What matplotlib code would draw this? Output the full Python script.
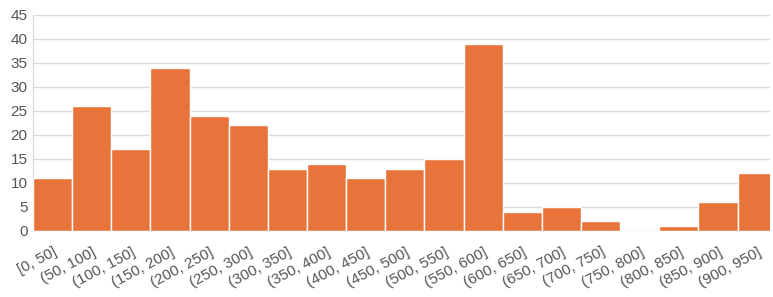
import matplotlib
matplotlib.use("Agg")
import matplotlib.pyplot as plt

categories = ["[0, 50]", "(50, 100]", "(100, 150]", "(150, 200]", "(200, 250]", "(250, 300]",
              "(300, 350]", "(350, 400]", "(400, 450]", "(450, 500]", "(500, 550]", "(550, 600]",
              "(600, 650]", "(650, 700]", "(700, 750]", "(750, 800]", "(800, 850]", "(850, 900]",
              "(900, 950]"]
counts = [11, 26, 17, 34, 24, 22, 13, 14, 11, 13, 15, 39, 4, 5, 2, 0, 1, 6, 12]
yticks = [0, 5, 10, 15, 20, 25, 30, 35, 40, 45]

plt.rcParams['font.family'] = ['Liberation Sans', 'DejaVu Sans']
fig = plt.figure(figsize=(7.73, 2.97), dpi=100)
ax = fig.add_axes([33/773, 66/297, 737/773, 216/297])
x = list(range(len(categories)))
ax.bar(x, counts, width=1.0, color="#E8743B", edgecolor="white", linewidth=1.0, zorder=3)
ax.set_xlim(-0.5, len(categories) - 0.67)
ax.set_ylim(0, 45)
ax.set_yticks(yticks)
ax.grid(axis="y", color="#d9d9d9", linewidth=1.0, zorder=0)
for s in ["top", "right", "bottom"]:
    ax.spines[s].set_visible(False)
ax.spines["left"].set_color("#d9d9d9")
ax.set_xticks(x)
ax.set_xticklabels(categories, rotation=28, ha="right", rotation_mode="anchor")
ax.tick_params(axis="both", length=0, labelsize=11, colors="#555555")
ax.tick_params(axis="x", pad=10)
ax.tick_params(axis="y", pad=4)
fig.savefig("out.png", dpi=100)
